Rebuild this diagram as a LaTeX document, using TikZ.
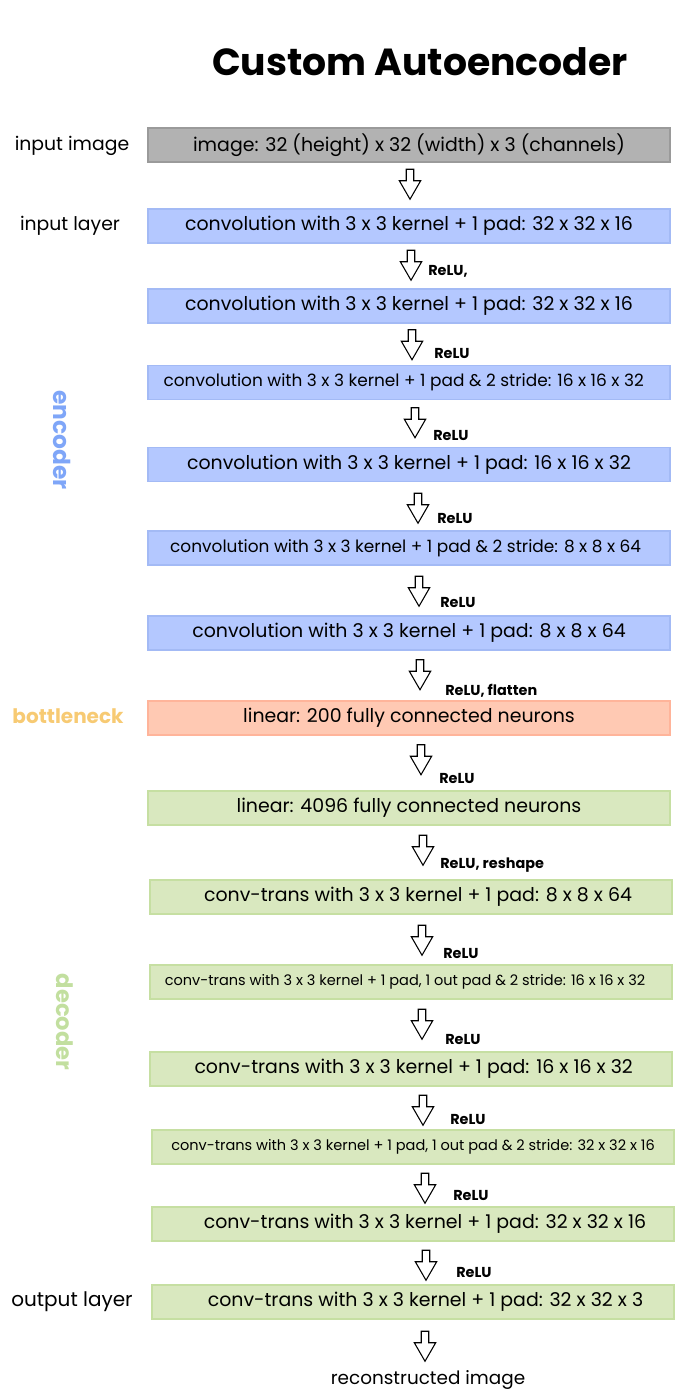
\documentclass[tikz,border=0pt]{standalone}
\usepackage{fontspec}
\setmainfont{Poppins}
\usetikzlibrary{shapes.arrows}
\definecolor{grayfill}{HTML}{B2B2B2}
\definecolor{graydraw}{HTML}{9A9A9A}
\definecolor{bluefill}{HTML}{B4C8FF}
\definecolor{bluedraw}{HTML}{A3BAF5}
\definecolor{orfill}{HTML}{FFC9B3}
\definecolor{ordraw}{HTML}{FFB49A}
\definecolor{grfill}{HTML}{D9E8BF}
\definecolor{grdraw}{HTML}{C6DFA2}
\definecolor{enccol}{HTML}{7FA6F8}
\definecolor{botcol}{HTML}{F7CA73}
\definecolor{deccol}{HTML}{C2DF9F}
\tikzset{
  layerbox/.style={rectangle, minimum width=391.5pt, minimum height=25.5pt, inner sep=0pt, line width=0.9pt, font=\fontsize{14.2}{16}\selectfont},
  graybox/.style={layerbox, fill=grayfill, draw=graydraw},
  bluebox/.style={layerbox, fill=bluefill, draw=bluedraw},
  orbox/.style={layerbox, fill=orfill, draw=ordraw},
  grbox/.style={layerbox, fill=grfill, draw=grdraw},
  smalltxt/.style={font=\fontsize{12.7}{14}\selectfont},
  tinytxt/.style={font=\fontsize{10.9}{12}\selectfont},
  tshift/.style={execute at begin node={\hspace*{#1}}},
  harrow/.style={shape=single arrow, draw=black, fill=white, line width=0.8pt, shape border rotate=270,
    minimum height=22.5pt, minimum width=15pt, inner sep=2.4pt, single arrow head extend=5.2pt,
    single arrow tip angle=60},
  actlbl/.style={anchor=west, inner sep=0pt, font=\bfseries\fontsize{10.8}{12}\selectfont},
  sidelbl/.style={inner sep=0pt, font=\fontsize{15}{18}\selectfont},
}
\begin{document}
\begin{tikzpicture}[x=0.75pt, y=-0.75pt]
\useasboundingbox (0,0) rectangle (697,1395);
\node[font=\bfseries\fontsize{28.3}{32}\selectfont] (title) at (420,62) {Custom Autoencoder};
% layers
\node[graybox] (b1) at (409,145) {image: 32 (height) x 32 (width) x 3 (channels)};
\node[bluebox] (b2) at (409,226) {convolution with 3 x 3 kernel + 1 pad: 32 x 32 x 16};
\node[bluebox] (b3) at (409,306) {convolution with 3 x 3 kernel + 1 pad: 32 x 32 x 16};
\node[bluebox, smalltxt, tshift=-8pt] (b4) at (409,382.5) {convolution with 3 x 3 kernel + 1 pad \& 2 stride: 16 x 16 x 32};
\node[bluebox] (b5) at (409,464.5) {convolution with 3 x 3 kernel + 1 pad: 16 x 16 x 32};
\node[bluebox, smalltxt, tshift=-5pt] (b6) at (409,548) {convolution with 3 x 3 kernel + 1 pad \& 2 stride: 8 x 8 x 64};
\node[bluebox] (b7) at (409,633) {convolution with 3 x 3 kernel + 1 pad: 8 x 8 x 64};
\node[orbox] (b8) at (409,718) {linear: 200 fully connected neurons};
\node[grbox] (b9) at (409,808) {linear: 4096 fully connected neurons};
\node[grbox, tshift=10.5pt] (b10) at (411,897) {conv-trans with 3 x 3 kernel + 1 pad: 8 x 8 x 64};
\node[grbox, tinytxt, tshift=-9pt] (b11) at (411,982) {conv-trans with 3 x 3 kernel + 1 pad, 1 out pad \& 2 stride: 16 x 16 x 32};
\node[grbox, tshift=4pt] (b12) at (411,1069) {conv-trans with 3 x 3 kernel + 1 pad: 16 x 16 x 32};
\node[grbox, tinytxt] (b13) at (413,1147) {conv-trans with 3 x 3 kernel + 1 pad, 1 out pad \& 2 stride: 32 x 32 x 16};
\node[grbox, tshift=18pt] (b14) at (413,1224) {conv-trans with 3 x 3 kernel + 1 pad: 32 x 32 x 16};
\node[grbox, tshift=18.75pt] (b15) at (413,1302) {conv-trans with 3 x 3 kernel + 1 pad: 32 x 32 x 3};
\node[font=\fontsize{13.8}{16}\selectfont] (out) at (428,1380) {reconstructed image};
% arrows
\node[harrow] (a1) at (410,181) {};
\node[harrow] (a2) at (411,262) {};
\node[harrow] (a3) at (412,341.5) {};
\node[harrow] (a4) at (415,419.5) {};
\node[harrow] (a5) at (418,505) {};
\node[harrow] (a6) at (419,588) {};
\node[harrow] (a7) at (420,671.5) {};
\node[harrow] (a8) at (421,756.5) {};
\node[harrow] (a9) at (423,847) {};
\node[harrow] (a10) at (422,937) {};
\node[harrow] (a11) at (422,1021) {};
\node[harrow] (a12) at (423,1107) {};
\node[harrow] (a13) at (425,1185) {};
\node[harrow] (a14) at (426,1262) {};
\node[harrow] (a15) at (425,1343) {};
% activation labels
\node[actlbl] (r2) at (428,271) {ReLU,};
\node[actlbl] (r3) at (434,353) {ReLU};
\node[actlbl] (r4) at (433,435) {ReLU};
\node[actlbl] (r5) at (437,518) {ReLU};
\node[actlbl] (r6) at (440,602) {ReLU};
\node[actlbl] (r7) at (445,691) {ReLU, flatten};
\node[actlbl] (r8) at (439,778) {ReLU};
\node[actlbl] (r9) at (440,865) {ReLU, reshape};
\node[actlbl] (r10) at (443,953) {ReLU};
\node[actlbl] (r11) at (445,1039) {ReLU};
\node[actlbl] (r12) at (450,1119) {ReLU};
\node[actlbl] (r13) at (453,1195) {ReLU};
\node[actlbl] (r14) at (456,1272) {ReLU};
% side labels
\node[sidelbl, font=\fontsize{14.1}{17}\selectfont] (l1) at (72,146) {input image};
\node[sidelbl, font=\fontsize{14.1}{17}\selectfont] (l2) at (70,226) {input layer};
\node[sidelbl, font=\bfseries\fontsize{17.5}{20}\selectfont, text=enccol, rotate=-90] (l3) at (62,440) {encoder};
\node[sidelbl, font=\bfseries\fontsize{15}{18}\selectfont, text=botcol] (l4) at (68,716) {bottleneck};
\node[sidelbl, font=\bfseries\fontsize{17}{20}\selectfont, text=deccol, rotate=-90] (l5) at (65,1022) {decoder};
\node[sidelbl] (l6) at (72,1302) {output layer};
\end{tikzpicture}
\end{document}
